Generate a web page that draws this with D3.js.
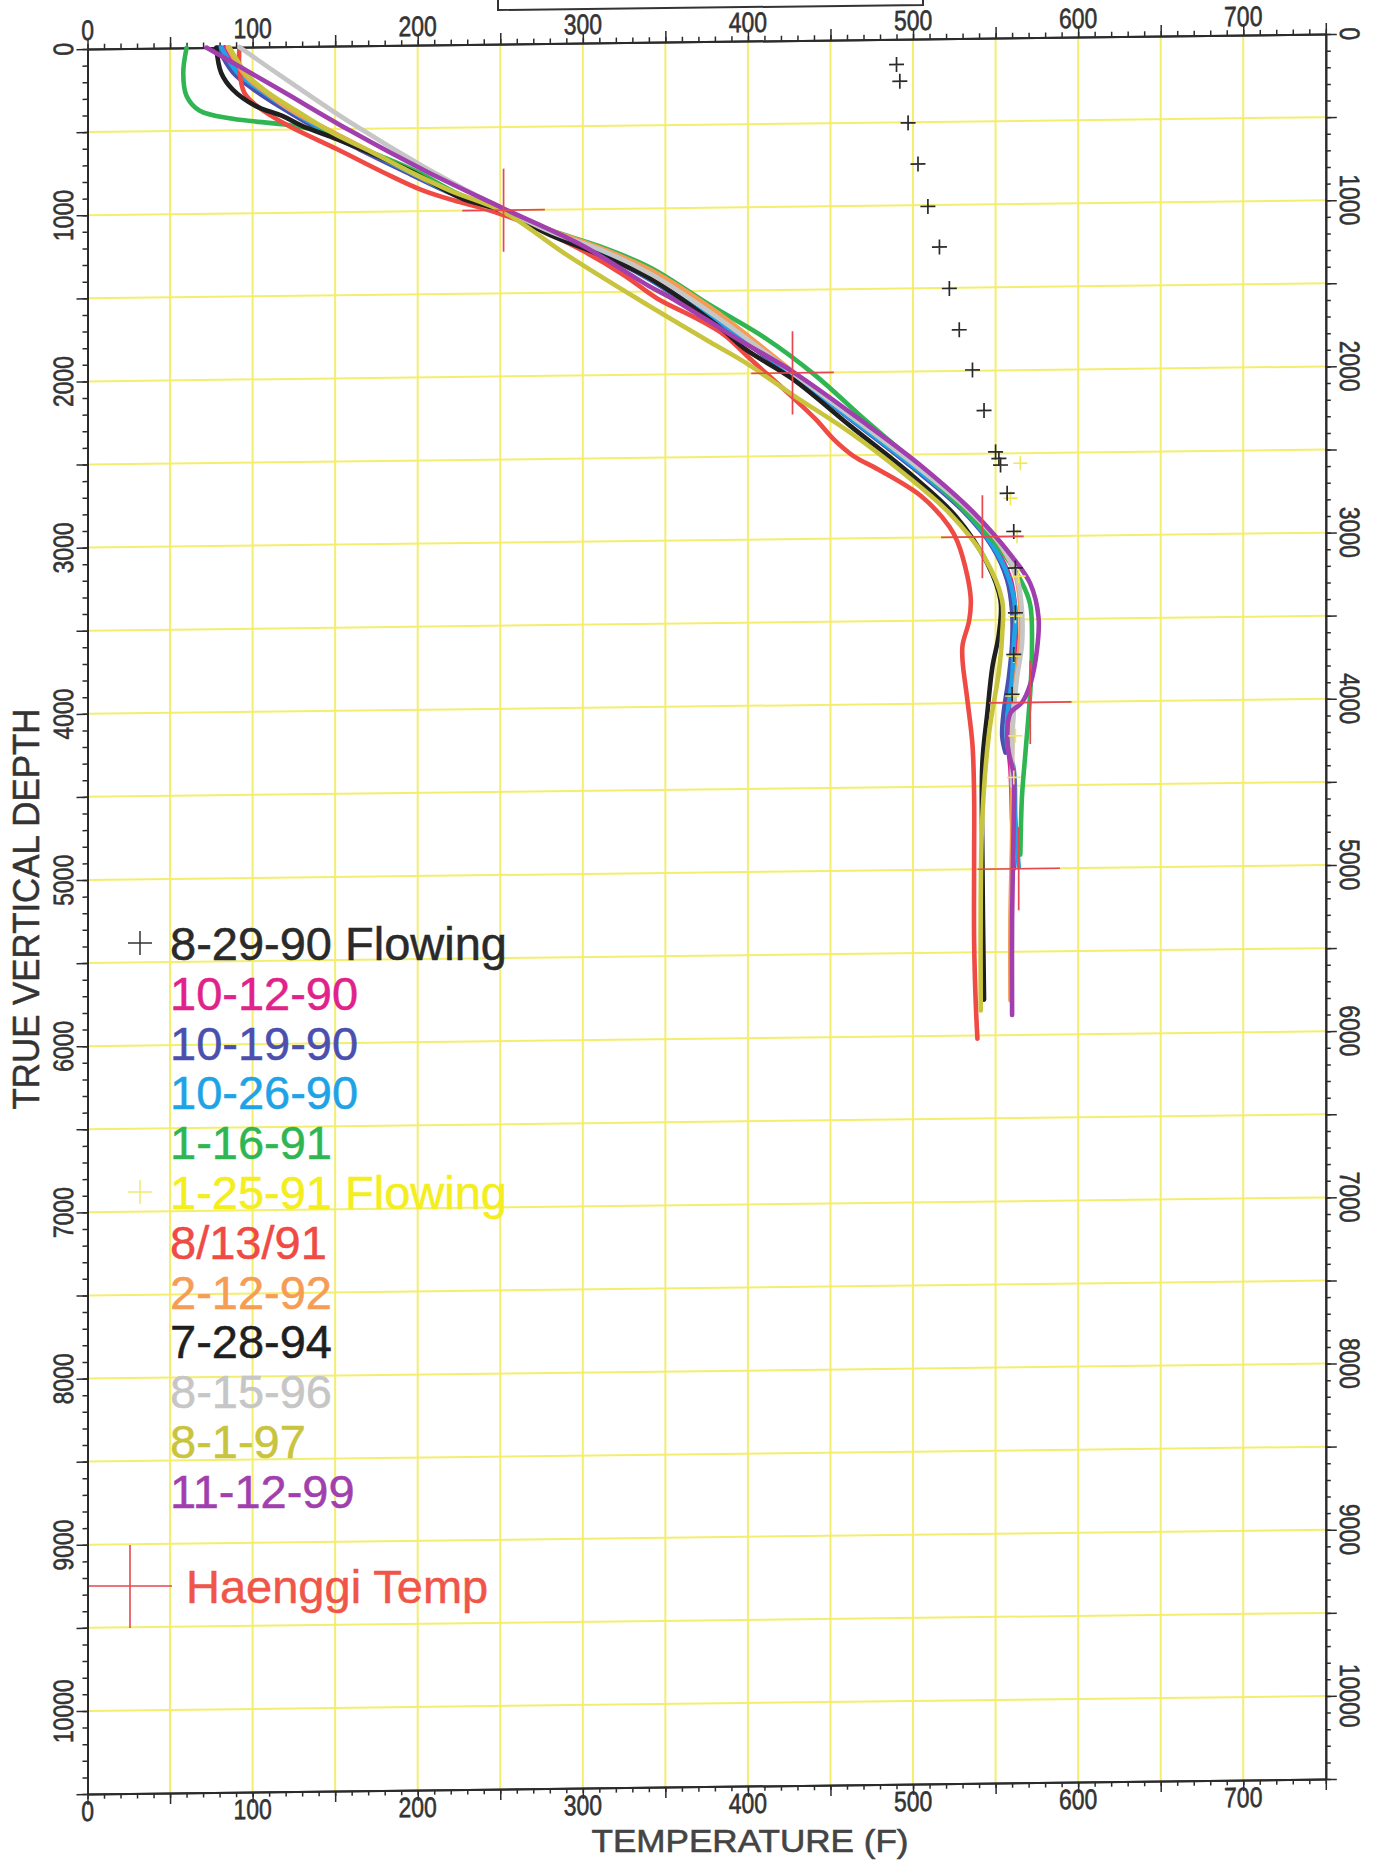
<!DOCTYPE html>
<html><head><meta charset="utf-8">
<script src="https://cdn.jsdelivr.net/npm/d3@7"></script>
<style>body{margin:0;background:#fff}svg{display:block}</style>
</head><body>
<svg id="chart" width="1381" height="1860"></svg>
<script>
// ---------- data ----------
const tempTicks = [0,100,200,300,400,500,600,700];
const depthTicks = [0,1000,2000,3000,4000,5000,6000,7000,8000,9000,10000];

const legendLabels = ["8-29-90 Flowing","10-12-90","10-19-90","10-26-90","1-16-91","1-25-91 Flowing","8/13/91","2-12-92","7-28-94","8-15-96","8-1-97","11-12-99"];
const legendColors = ["#2a2a2a","#e0228a","#4b4fae","#1ea3e6","#2fb551","#f3ee1c","#ef4a44","#f59c55","#1f1f1f","#c6c6c6","#c9c43e","#a23fae"];

// flowing surveys (markers only): [temperature F, depth ft]
const flow082990 = [[490,152],[492,253],[497,504],[503,752],[509,1008],[516,1253],[522,1503],[528,1753],[536,1995],[543,2240],[550,2490],[552,2530],[553,2570],[557,2740],[561,2970],[562,3190],[562,3460],[561,3710],[560,3950]];
const flow012591 = [[565,2560],[559,2770],[563,3000],[564,3240],[562,3480],[561,3720],[560,3960],[562,4200],[561,4450]];

// static surveys (lines): [temperature F, depth ft]
const s101290 = [[83,0],[92,150],[104,260],[121,380],[144,505],[168,630],[195,768],[220,888],[240,970],[252,1008],[281,1143],[311,1262],[341,1422],[380,1685],[427,2012],[466,2302],[501,2575],[531,2835],[549,3055],[559,3255],[562,3450],[562,3650],[560,3850],[558,4050],[557,4200],[559,4400],[560,4700],[561,5000]];
const s101990 = [[79,0],[88,150],[100,250],[118,370],[140,500],[165,625],[193,765],[218,886],[240,968],[252,1010],[280,1145],[310,1265],[340,1425],[380,1690],[427,2015],[465,2305],[500,2580],[530,2840],[548,3060],[557,3260],[560,3450],[560,3650],[558,3850],[555,4050],[554,4200],[556,4300]];
const s102690 = [[81,0],[91,155],[104,256],[122,378],[142,499],[167,622],[195,764],[219,886],[239,968],[252,1009],[280,1140],[310,1260],[340,1420],[380,1680],[427,2010],[465,2300],[500,2570],[530,2830],[548,3050],[558,3250],[562,3450],[561,3650],[560,3850],[557,4100],[557,4250],[561,4400],[562,4700],[564,4990]];
const s011691 = [[60,0],[58,150],[60,290],[68,380],[88,430],[118,467],[134,495],[151,555],[175,655],[200,765],[225,900],[252,1000],[280,1122],[310,1224],[341,1357],[377,1586],[411,1792],[441,2018],[470,2280],[500,2540],[530,2830],[553,3080],[566,3280],[571,3413],[572,3688],[571,3938],[568,4313],[566,4563],[565,4915]];
const s081391 = [[92,0],[92,135],[95,275],[104,366],[122,478],[151,620],[179,763],[203,875],[225,947],[240,988],[252,1029],[270,1100],[300,1250],[325,1400],[345,1542],[369,1666],[386,1769],[400,1900],[426,2137],[441,2280],[452,2403],[464,2505],[479,2588],[505,2752],[522,2936],[527,3030],[533,3240],[535,3382],[534,3503],[530,3650],[530,3745],[533,3988],[536,4251],[537,4560],[537,4934],[537,5434],[538,5809],[539,6020]];
const s021292 = [[85,0],[96,175],[108,274],[124,387],[147,510],[172,640],[198,775],[222,895],[241,975],[252,1005],[282,1130],[312,1240],[342,1375],[380,1620],[427,1990],[467,2290],[502,2560],[533,2820],[552,3040],[562,3230],[565,3430],[565,3600],[563,3800],[561,4000],[560,4300],[560,4800],[559,5300],[559,5790]];
const s072894 = [[78,0],[81,154],[88,255],[102,356],[118,417],[130,478],[151,560],[175,662],[197,764],[215,866],[227,927],[252,1009],[280,1152],[310,1274],[340,1417],[384,1729],[398,1851],[427,2036],[462,2323],[500,2631],[526,2876],[545,3161],[553,3384],[552,3586],[548,3788],[545,4060],[542,4360],[542,4935],[543,5785]];
const s081596 = [[92,0],[125,230],[159,460],[205,740],[252,995],[282,1140],[312,1250],[342,1400],[380,1650],[427,2000],[467,2300],[502,2570],[533,2830],[553,3050],[563,3250],[566,3450],[566,3650],[563,3850],[561,4050],[560,4300],[560,4500]];
const s080197 = [[86,0],[97,170],[110,280],[127,390],[148,520],[172,640],[197,770],[220,880],[252,1010],[290,1272],[335,1555],[377,1808],[398,1932],[428,2138],[462,2364],[494,2610],[522,2855],[543,3120],[554,3385],[554,3587],[552,3811],[546,4185],[542,4685],[541,5185],[541,5850]];
const s111299 = [[72,0],[115,250],[159,510],[205,760],[252,990],[300,1220],[340,1467],[354,1543],[395,1800],[427,1992],[473,2324],[505,2570],[537,2857],[560,3122],[571,3285],[576,3488],[575,3690],[571,3891],[566,4000],[559,4062],[557,4200],[558,4300],[561,4437],[561,4700],[560,5300],[560,5880]];

// Haenggi temperatures (crosses with +/- error arms)
const haenggiTemp = [252,427,542,571,564];
const haenggiDepth = [1000,2000,3000,4000,5000];
const haenggiTempErr = 25, haenggiDepthErr = 250;

// ---------- layout ----------
const svg = d3.select('#chart');
const X0 = 87.5, Y0 = 49, W = 1238.3, H = 1745;
const x = d3.scaleLinear().domain([0,750]).range([0,W]);
const y = d3.scaleLinear().domain([0,10500]).range([0,H]);
const FONT = "'Liberation Sans', Arial, sans-serif";
const gridColor = "#f4ee6e";
const axisColor = "#2b2b2b";

// partial box at top
svg.append('path').attr('d','M498,-5 L498,10 L923,5 L923,-5')
  .attr('fill','none').attr('stroke','#333').attr('stroke-width',2);

const g = svg.append('g').attr('transform',`translate(${X0},${Y0}) skewY(-0.69)`);

// grid
g.append('g').selectAll('line').data(d3.range(50,750,50)).join('line')
  .attr('x1',d=>x(d)).attr('x2',d=>x(d)).attr('y1',0).attr('y2',H)
  .attr('stroke',gridColor).attr('stroke-width',2);
g.append('g').selectAll('line').data(d3.range(500,10500,500)).join('line')
  .attr('x1',0).attr('x2',W).attr('y1',d=>y(d)).attr('y2',d=>y(d))
  .attr('stroke',gridColor).attr('stroke-width',2);

// axes: minor + major ticks
function styleAxis(sel){
  sel.selectAll('path').attr('stroke',axisColor).attr('stroke-width',2);
  sel.selectAll('line').attr('stroke',axisColor).attr('stroke-width',1.5);
  sel.selectAll('text').remove();
}
const minorT = d3.range(0,751,10), majorT = d3.range(0,751,50);
const minorD = d3.range(0,10501,100), majorD = d3.range(0,10501,500);
[[d3.axisTop(x),0],[d3.axisBottom(x),H]].forEach(([ax,off])=>{
  g.append('g').attr('transform',`translate(0,${off})`).call(ax.tickValues(minorT).tickSize(5).tickSizeOuter(0)).call(styleAxis);
  g.append('g').attr('transform',`translate(0,${off})`).call(ax.tickValues(majorT).tickSize(11).tickSizeOuter(0)).call(styleAxis);
});
[[d3.axisLeft(y),0],[d3.axisRight(y),W]].forEach(([ax,off])=>{
  g.append('g').attr('transform',`translate(${off},0)`).call(ax.tickValues(minorD).tickSize(5).tickSizeOuter(0)).call(styleAxis);
  g.append('g').attr('transform',`translate(${off},0)`).call(ax.tickValues(majorD).tickSize(11).tickSizeOuter(0)).call(styleAxis);
});

// tick labels (condensed)
const lab = g.append('g').attr('font-family',FONT).attr('font-size',28).attr('fill','#333')
  .attr('stroke','#333').attr('stroke-width',0.6).attr('text-anchor','middle');
tempTicks.forEach(v=>{
  lab.append('text').attr('transform',`translate(${x(v)},-9) scale(0.82,1)`).text(v);
  lab.append('text').attr('transform',`translate(${x(v)},${H+27}) scale(0.82,1)`).text(v);
});
depthTicks.forEach(v=>{
  lab.append('text').attr('transform',`translate(-15,${y(v)}) rotate(-90) scale(0.82,1)`).text(v);
  lab.append('text').attr('transform',`translate(${W+14},${y(v)}) rotate(90) scale(0.82,1)`).text(v);
});

// lines
const line = d3.line().x(d=>x(d[0])).y(d=>y(d[1])).curve(d3.curveCatmullRom.alpha(0.5));
const lineSeries = [[s101290,1],[s101990,2],[s102690,3],[s011691,4],[s081391,6],[s021292,7],[s072894,8],[s081596,9],[s080197,10],[s111299,11]];
const lg = g.append('g').attr('fill','none').attr('stroke-width',4.6).attr('stroke-linecap','round').attr('stroke-linejoin','round');
lineSeries.forEach(([data,ci])=>{
  lg.append('path').attr('d',line(data)).attr('stroke',legendColors[ci]);
});

// markers
function plus(sel,data,color,size,width){
  sel.append('g').selectAll('path').data(data).join('path')
    .attr('d',d=>`M${x(d[0])-size},${y(d[1])}H${x(d[0])+size}M${x(d[0])},${y(d[1])-size}V${y(d[1])+size}`)
    .attr('stroke',color).attr('stroke-width',width).attr('fill','none');
}
plus(g,flow012591,"#efe85a",7,1.6);
plus(g,flow082990,"#2a2a2a",7.5,1.7);

// Haenggi crosses
const hg = g.append('g').attr('stroke','#e5484f').attr('stroke-width',1.7);
haenggiTemp.forEach((t,i)=>{
  const d = haenggiDepth[i];
  hg.append('line').attr('x1',x(t-haenggiTempErr)).attr('x2',x(t+haenggiTempErr)).attr('y1',y(d)).attr('y2',y(d));
  hg.append('line').attr('x1',x(t)).attr('x2',x(t)).attr('y1',y(d-haenggiDepthErr)).attr('y2',y(d+haenggiDepthErr));
});

// legend
const leg = svg.append('g').attr('font-family',FONT).attr('font-size',47);
legendLabels.forEach((t,i)=>{
  const cy = 943 + 49.8*i;
  leg.append('text').attr('x',170).attr('y',cy+17).attr('fill',legendColors[i])
    .attr('stroke',legendColors[i]).attr('stroke-width',0.5).text(t);
});
leg.append('path').attr('d','M128,943H152M140,931V955').attr('stroke','#333').attr('stroke-width',1.5);
leg.append('path').attr('d',`M128,${943+49.8*5}H152M140,${931+49.8*5}V${955+49.8*5}`).attr('stroke','#f0ea70').attr('stroke-width',1.5);
leg.append('path').attr('d','M89,1586H172M130,1545V1628').attr('stroke','#e5484f').attr('stroke-width',1.6);
leg.append('text').attr('x',186).attr('y',1603).attr('fill','#ef5548').attr('stroke','#ef5548').attr('stroke-width',0.5).text('Haenggi Temp');

// axis titles
svg.append('text').attr('transform','translate(39,909) rotate(-90)').attr('text-anchor','middle')
  .attr('font-family',FONT).attr('font-size',36).attr('fill','#333').attr('stroke','#333').attr('stroke-width',0.5)
  .attr('textLength',401).attr('lengthAdjust','spacingAndGlyphs').text('TRUE VERTICAL DEPTH');
svg.append('text').attr('x',750).attr('y',1852).attr('text-anchor','middle')
  .attr('font-family',FONT).attr('font-size',32).attr('fill','#444').attr('stroke','#444').attr('stroke-width',0.6)
  .attr('textLength',317).attr('lengthAdjust','spacingAndGlyphs').text('TEMPERATURE (F)');
</script>
</body></html>
